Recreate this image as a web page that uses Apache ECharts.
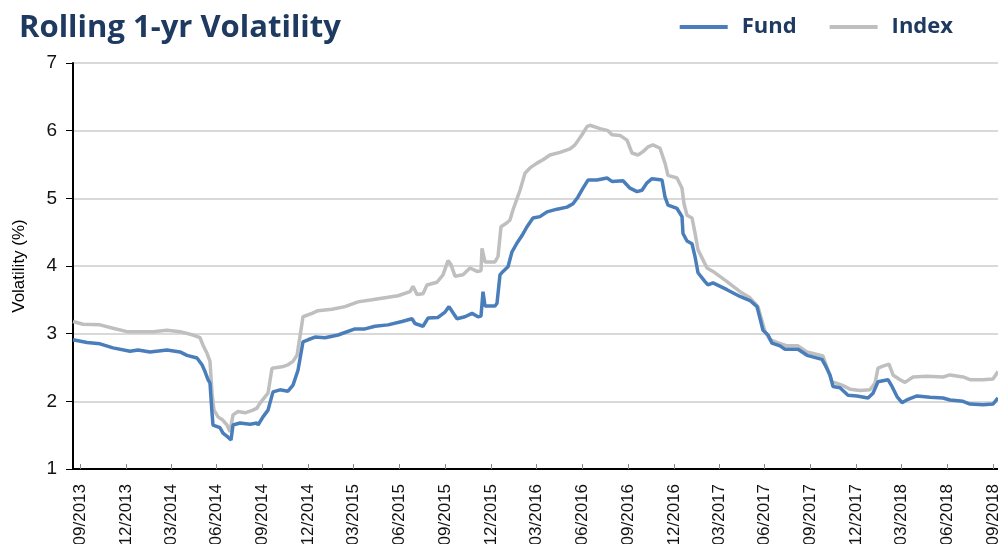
<!DOCTYPE html>
<html>
<head>
<meta charset="utf-8">
<script src="https://cdn.jsdelivr.net/npm/echarts@6/dist/echarts.min.js"></script>
<style>html,body{margin:0;padding:0;background:#fff}#c{width:998px;height:544px}</style>
</head>
<body>
<div id="c"></div>
<script>
const tickDates = ['2013-09-30','2013-12-31','2014-03-31','2014-06-30','2014-09-30','2014-12-31','2015-03-31','2015-06-30','2015-09-30','2015-12-31','2016-03-31','2016-06-30','2016-09-30','2016-12-31','2017-03-31','2017-06-30','2017-09-30','2017-12-31','2018-03-31','2018-06-30','2018-09-30'];
const tickLabels = ['09/2013','12/2013','03/2014','06/2014','09/2014','12/2014','03/2015','06/2015','09/2015','12/2015','03/2016','06/2016','09/2016','12/2016','03/2017','06/2017','09/2017','12/2017','03/2018','06/2018','09/2018'];

const fundDates = ['2013-09-17','2013-10-15','2013-11-10','2013-12-06','2014-01-09','2014-01-25','2014-02-18','2014-03-24','2014-04-19','2014-05-03','2014-05-23','2014-06-02','2014-06-08','2014-06-14','2014-06-18','2014-06-22','2014-06-24','2014-07-08','2014-07-14','2014-07-24','2014-07-30','2014-08-03','2014-08-17','2014-09-06','2014-09-20','2014-09-22','2014-10-02','2014-10-12','2014-10-22','2014-11-05','2014-11-21','2014-12-01','2014-12-11','2014-12-21','2014-12-31','2015-01-14','2015-02-03','2015-03-01','2015-04-04','2015-04-24','2015-05-14','2015-06-09','2015-07-07','2015-07-27','2015-08-02','2015-08-18','2015-08-28','2015-09-17','2015-10-01','2015-10-09','2015-10-17','2015-10-25','2015-11-10','2015-11-24','2015-12-06','2015-12-12','2015-12-16','2015-12-20','2016-01-09','2016-01-13','2016-01-19','2016-01-25','2016-02-04','2016-02-12','2016-02-22','2016-03-03','2016-03-13','2016-03-25','2016-04-08','2016-04-22','2016-05-12','2016-06-01','2016-06-13','2016-06-23','2016-07-03','2016-07-13','2016-07-31','2016-08-20','2016-08-30','2016-09-21','2016-10-05','2016-10-19','2016-10-29','2016-11-08','2016-11-18','2016-12-08','2016-12-14','2016-12-20','2017-01-07','2017-01-17','2017-01-19','2017-01-27','2017-02-06','2017-02-12','2017-02-18','2017-03-04','2017-03-10','2017-03-20','2017-04-17','2017-05-13','2017-06-02','2017-06-16','2017-06-28','2017-07-08','2017-07-16','2017-08-01','2017-08-11','2017-09-06','2017-09-24','2017-10-24','2017-10-30','2017-11-09','2017-11-15','2017-11-29','2017-12-15','2018-01-02','2018-01-24','2018-02-03','2018-02-13','2018-03-05','2018-03-13','2018-03-23','2018-04-02','2018-04-14','2018-05-02','2018-05-28','2018-06-23','2018-07-07','2018-08-02','2018-08-16','2018-09-11','2018-10-01','2018-10-11'];
const fundValues = [2.91,2.87,2.85,2.79,2.74,2.76,2.73,2.76,2.73,2.68,2.64,2.54,2.44,2.32,2.27,1.83,1.65,1.61,1.53,1.47,1.43,1.65,1.68,1.66,1.68,1.65,1.77,1.87,2.14,2.17,2.15,2.24,2.46,2.88,2.91,2.95,2.94,2.98,3.07,3.07,3.11,3.13,3.18,3.22,3.15,3.11,3.23,3.24,3.32,3.40,3.31,3.22,3.25,3.30,3.25,3.26,3.62,3.41,3.41,3.45,3.87,3.92,3.99,4.21,4.34,4.45,4.58,4.71,4.73,4.80,4.84,4.87,4.92,5.02,5.15,5.27,5.27,5.30,5.25,5.26,5.15,5.10,5.12,5.23,5.29,5.27,5.02,4.90,4.85,4.73,4.48,4.37,4.33,4.14,3.90,3.77,3.72,3.75,3.65,3.55,3.49,3.40,3.05,2.98,2.86,2.82,2.77,2.77,2.68,2.62,2.54,2.39,2.22,2.20,2.09,2.08,2.05,2.12,2.29,2.32,2.22,2.07,1.98,2.03,2.08,2.06,2.05,2.02,2.00,1.96,1.95,1.96,2.05];

const indexDates = ['2013-09-17','2013-10-07','2013-11-10','2013-12-06','2014-01-03','2014-01-29','2014-02-24','2014-03-24','2014-04-19','2014-05-15','2014-05-29','2014-06-04','2014-06-12','2014-06-18','2014-06-22','2014-06-26','2014-07-04','2014-07-14','2014-07-22','2014-07-28','2014-08-03','2014-08-13','2014-08-27','2014-09-12','2014-09-20','2014-09-24','2014-10-02','2014-10-12','2014-10-20','2014-11-09','2014-11-21','2014-12-01','2014-12-09','2014-12-15','2014-12-21','2015-01-08','2015-01-20','2015-02-17','2015-03-15','2015-04-10','2015-05-08','2015-06-03','2015-06-29','2015-07-23','2015-07-29','2015-08-06','2015-08-18','2015-08-26','2015-09-15','2015-09-27','2015-10-07','2015-10-13','2015-10-21','2015-11-06','2015-11-20','2015-12-04','2015-12-12','2015-12-14','2015-12-20','2016-01-09','2016-01-15','2016-01-21','2016-02-02','2016-02-08','2016-02-14','2016-02-28','2016-03-09','2016-03-19','2016-04-02','2016-04-14','2016-04-28','2016-05-18','2016-06-07','2016-06-17','2016-07-01','2016-07-11','2016-07-17','2016-08-06','2016-08-22','2016-08-30','2016-09-15','2016-09-29','2016-10-09','2016-10-21','2016-10-31','2016-11-10','2016-11-20','2016-12-04','2016-12-14','2016-12-20','2017-01-07','2017-01-17','2017-01-21','2017-01-27','2017-02-06','2017-02-12','2017-02-18','2017-02-26','2017-03-08','2017-03-20','2017-04-17','2017-05-13','2017-06-02','2017-06-18','2017-07-02','2017-07-12','2017-07-26','2017-08-15','2017-09-06','2017-09-24','2017-10-26','2017-11-05','2017-11-13','2017-12-03','2017-12-19','2018-01-08','2018-01-28','2018-02-07','2018-02-13','2018-02-23','2018-03-07','2018-03-15','2018-03-29','2018-04-08','2018-04-24','2018-05-22','2018-06-23','2018-07-07','2018-08-02','2018-08-16','2018-09-11','2018-10-01','2018-10-11'];
const indexValues = [3.18,3.14,3.13,3.08,3.03,3.03,3.03,3.05,3.03,2.98,2.94,2.83,2.71,2.59,2.12,1.87,1.77,1.72,1.65,1.55,1.80,1.85,1.83,1.87,1.90,1.95,2.03,2.12,2.49,2.51,2.54,2.59,2.68,2.96,3.25,3.30,3.34,3.36,3.40,3.47,3.50,3.53,3.56,3.62,3.70,3.58,3.59,3.72,3.76,3.87,4.08,4.02,3.85,3.87,3.97,3.92,3.93,4.26,4.06,4.06,4.14,4.58,4.64,4.68,4.83,5.12,5.37,5.45,5.52,5.57,5.64,5.68,5.73,5.79,5.94,6.06,6.08,6.03,6.00,5.94,5.93,5.86,5.67,5.64,5.69,5.76,5.79,5.74,5.52,5.34,5.30,5.15,4.92,4.75,4.71,4.49,4.24,4.12,3.97,3.92,3.77,3.62,3.53,3.40,3.03,2.91,2.87,2.82,2.82,2.73,2.67,2.46,2.29,2.24,2.18,2.16,2.17,2.27,2.49,2.52,2.55,2.39,2.32,2.28,2.36,2.37,2.36,2.39,2.36,2.32,2.32,2.33,2.44];

const ts = s => Date.parse(s + 'T00:00:00Z');
const DAY = 86400000;
const tickValues = tickDates.map(d => ts(d) + DAY);
const labelMap = {};
tickValues.forEach((v, i) => { labelMap[v] = tickLabels[i]; });

const chart = echarts.init(document.getElementById('c'), null, {renderer: 'canvas'});
chart.setOption({
  animation: false,
  backgroundColor: '#ffffff',
  title: {
    text: 'Rolling 1-yr Volatility',
    left: 14, top: 8,
    textStyle: {fontFamily: 'Open Sans', fontWeight: 'bold', fontSize: 31, color: '#1F3A60'}
  },
  legend: {
    right: 40, top: 11,
    itemWidth: 48, itemHeight: 4, itemGap: 33,
    icon: 'rect',
    textStyle: {fontFamily: 'Open Sans', fontWeight: 'bold', fontSize: 22, color: '#1F3A60', padding: [0,0,0,9]},
    data: ['Fund', 'Index']
  },
  grid: {left: 73, right: 0, top: 63, bottom: 75, containLabel: false, outerBoundsMode: 'none'},
  xAxis: {
    type: 'value',
    min: ts('2013-09-17'),
    max: ts('2018-10-11'),
    splitLine: {show: false},
    axisLine: {show: true, lineStyle: {color: '#000', width: 2}},
    axisTick: {show: true, inside: true, length: 5, customValues: tickValues, lineStyle: {color: '#888', width: 1}},
    axisLabel: {
      customValues: tickValues,
      rotate: 90, margin: 15,
      fontFamily: 'Liberation Sans', fontSize: 17, color: '#111',
      formatter: v => labelMap[v] || ''
    }
  },
  yAxis: {
    type: 'value', min: 1, max: 7, interval: 1,
    name: 'Volatility (%)', nameLocation: 'middle', nameGap: 45, nameRotate: 90,
    nameTextStyle: {fontFamily: 'Liberation Sans', fontSize: 17, color: '#000'},
    axisLine: {show: true, lineStyle: {color: '#000', width: 2}},
    axisTick: {show: true, inside: false, length: 7, lineStyle: {color: '#000', width: 1}},
    axisLabel: {fontFamily: 'Liberation Sans', fontSize: 19, color: '#111', margin: 16},
    splitLine: {show: true, lineStyle: {color: '#D9D9D9', width: 2}}
  },
  series: [
    {
      name: 'Index', type: 'line', showSymbol: false, symbol: 'none',
      color: '#BFBFBF',
      lineStyle: {width: 3.5, color: '#BFBFBF'},
      data: indexDates.map((d, i) => [ts(d), indexValues[i]])
    },
    {
      name: 'Fund', type: 'line', showSymbol: false, symbol: 'none',
      color: '#4A7EBB',
      lineStyle: {width: 3.5, color: '#4A7EBB'},
      data: fundDates.map((d, i) => [ts(d), fundValues[i]])
    }
  ]
});
</script>
</body>
</html>
